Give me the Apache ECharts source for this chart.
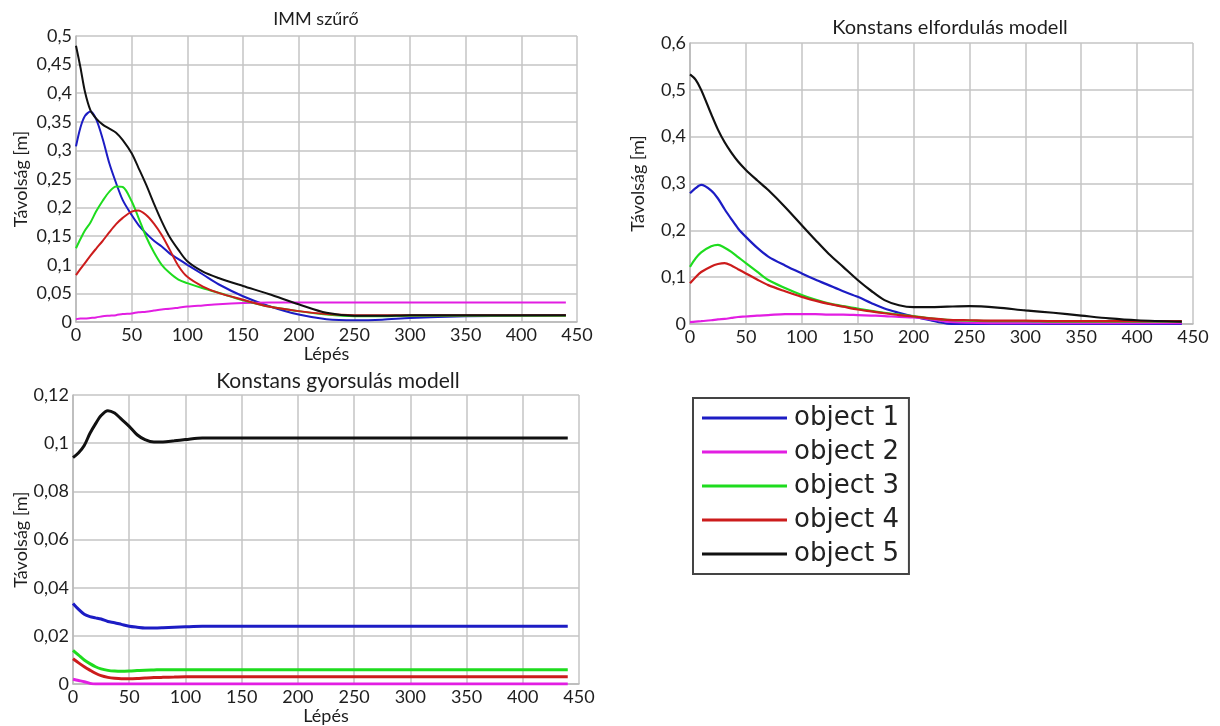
<!DOCTYPE html>
<html>
<head>
<meta charset="utf-8">
<script src="https://cdn.jsdelivr.net/npm/echarts@6/dist/echarts.min.js"></script>
<style>
html,body{margin:0;padding:0;background:#fff;}
#c{width:1220px;height:726px;}
</style>
</head>
<body>
<div id="c"></div>
<script>
// ---------- DATA ----------
const seriesNames = ['object 1', 'object 2', 'object 3', 'object 4', 'object 5'];
const chartTitles = ['IMM szűrő', 'Konstans elfordulás modell', 'Konstans gyorsulás modell'];
const xTicks = [0, 50, 100, 150, 200, 250, 300, 350, 400, 450];
const yTicksImm = [0, 0.05, 0.1, 0.15, 0.2, 0.25, 0.3, 0.35, 0.4, 0.45, 0.5];
const yTicksKe = [0, 0.1, 0.2, 0.3, 0.4, 0.5, 0.6];
const yTicksKg = [0, 0.02, 0.04, 0.06, 0.08, 0.1, 0.12];

// IMM szűrő
const immX  = [0, 4, 8, 13, 18, 24, 30, 36, 42, 50, 56, 63, 70, 77, 84, 92, 100, 114, 128, 150, 173, 200, 225, 250, 275, 300, 350, 400, 440];
const immO1 = [0.307, 0.34, 0.36, 0.368, 0.355, 0.32, 0.277, 0.243, 0.213, 0.187, 0.17, 0.155, 0.142, 0.132, 0.12, 0.11, 0.1, 0.083, 0.066, 0.045, 0.028, 0.013, 0.005, 0.003, 0.004, 0.007, 0.010, 0.011, 0.012];
const immO2 = [0.005, 0.006, 0.006, 0.007, 0.008, 0.01, 0.011, 0.012, 0.014, 0.015, 0.017, 0.018, 0.02, 0.022, 0.023, 0.025, 0.027, 0.029, 0.031, 0.033, 0.034, 0.034, 0.034, 0.034, 0.034, 0.034, 0.034, 0.034, 0.034];
const immO3 = [0.129, 0.145, 0.16, 0.174, 0.193, 0.212, 0.228, 0.237, 0.236, 0.211, 0.183, 0.149, 0.122, 0.1, 0.086, 0.074, 0.068, 0.059, 0.051, 0.038, 0.027, 0.019, 0.013, 0.010, 0.010, 0.011, 0.011, 0.011, 0.011];
const immO4 = [0.082, 0.093, 0.103, 0.116, 0.128, 0.142, 0.157, 0.171, 0.182, 0.193, 0.195, 0.187, 0.172, 0.152, 0.127, 0.098, 0.079, 0.062, 0.051, 0.039, 0.027, 0.019, 0.014, 0.012, 0.012, 0.012, 0.012, 0.012, 0.012];
const immO5 = [0.483, 0.445, 0.403, 0.37, 0.356, 0.345, 0.338, 0.331, 0.318, 0.295, 0.27, 0.24, 0.207, 0.176, 0.149, 0.126, 0.106, 0.088, 0.077, 0.063, 0.049, 0.031, 0.016, 0.011, 0.011, 0.012, 0.012, 0.012, 0.012];

// Konstans elfordulás modell
const keX  = [0, 5, 10, 19, 25, 31, 37, 43, 50, 60, 70, 85, 100, 112, 124, 137, 150, 162, 174, 187, 200, 215, 230, 250, 275, 300, 325, 350, 375, 400, 440];
const keO1 = [0.279, 0.29, 0.297, 0.285, 0.268, 0.245, 0.224, 0.204, 0.186, 0.163, 0.144, 0.125, 0.108, 0.095, 0.083, 0.07, 0.058, 0.045, 0.033, 0.024, 0.016, 0.008, 0.001, 0.0, 0.0, 0.0, 0.0, 0.0, 0.0, 0.0, 0.0];
const keO2 = [0.004, 0.005, 0.006, 0.008, 0.01, 0.011, 0.013, 0.015, 0.016, 0.018, 0.019, 0.021, 0.021, 0.021, 0.02, 0.02, 0.019, 0.018, 0.017, 0.015, 0.014, 0.01, 0.005, 0.003, 0.002, 0.002, 0.002, 0.002, 0.002, 0.002, 0.002];
const keO3 = [0.122, 0.14, 0.153, 0.166, 0.169, 0.163, 0.154, 0.143, 0.13, 0.112, 0.094, 0.077, 0.062, 0.052, 0.044, 0.038, 0.033, 0.028, 0.024, 0.02, 0.017, 0.012, 0.009, 0.007, 0.006, 0.006, 0.005, 0.005, 0.005, 0.005, 0.005];
const keO4 = [0.087, 0.1, 0.111, 0.123, 0.128, 0.13, 0.125, 0.117, 0.108, 0.095, 0.083, 0.07, 0.058, 0.05, 0.043, 0.037, 0.031, 0.027, 0.023, 0.019, 0.016, 0.012, 0.009, 0.008, 0.007, 0.007, 0.006, 0.006, 0.006, 0.006, 0.006];
const keO5 = [0.533, 0.522, 0.5, 0.448, 0.415, 0.388, 0.366, 0.347, 0.329, 0.307, 0.286, 0.25, 0.211, 0.18, 0.15, 0.122, 0.094, 0.071, 0.051, 0.04, 0.036, 0.036, 0.037, 0.038, 0.035, 0.029, 0.024, 0.018, 0.012, 0.008, 0.005];

// Konstans gyorsulás modell
const kgX  = [0, 5, 10, 15, 20, 25, 31, 37, 43, 50, 57, 64, 72, 80, 90, 100, 115, 130, 150, 200, 250, 300, 350, 400, 440];
const kgO1 = [0.0335, 0.031, 0.029, 0.028, 0.0275, 0.027, 0.026, 0.0255, 0.0248, 0.024, 0.0236, 0.0233, 0.0233, 0.0234, 0.0236, 0.0238, 0.024, 0.024, 0.024, 0.024, 0.024, 0.024, 0.024, 0.024, 0.024];
const kgO2 = [0.002, 0.0015, 0.001, 0.0003, 0.0, 0.0, 0.0, 0.0, 0.0, 0.0, 0.0, 0.0, 0.0, 0.0, 0.0, 0.0, 0.0, 0.0, 0.0, 0.0, 0.0, 0.0, 0.0, 0.0, 0.0];
const kgO3 = [0.014, 0.012, 0.01, 0.0085, 0.0072, 0.0063, 0.0057, 0.0054, 0.0053, 0.0054, 0.0056, 0.0058, 0.0059, 0.006, 0.006, 0.006, 0.006, 0.006, 0.006, 0.006, 0.006, 0.006, 0.006, 0.006, 0.006];
const kgO4 = [0.0105, 0.0088, 0.0072, 0.0058, 0.0045, 0.0035, 0.0028, 0.0024, 0.0022, 0.0022, 0.0023, 0.0025, 0.0027, 0.0028, 0.0029, 0.003, 0.003, 0.003, 0.003, 0.003, 0.003, 0.003, 0.003, 0.003, 0.003];
const kgO5 = [0.094, 0.096, 0.099, 0.104, 0.108, 0.1115, 0.1135, 0.1125, 0.110, 0.107, 0.1035, 0.1015, 0.1005, 0.1005, 0.101, 0.1015, 0.1022, 0.1022, 0.1022, 0.1022, 0.1022, 0.1022, 0.1022, 0.1022, 0.1022];

const colors = ['#1c1cc4', '#e21ee2', '#1edc1e', '#cc1c1c', '#111111'];

// ---------- BUILD ----------
const pair = (xs, ys) => xs.map((x, i) => [x, ys[i]]);
const fmt = v => String(+v.toFixed(3)).replace('.', ',');
const FONT = 'Lato';
const TXT = '#1e1e1e';
const GRIDC = '#c4c4c4';

const grids = [
  {left: 76, top: 36, width: 501, height: 286},
  {left: 690, top: 43, width: 503, height: 281},
  {left: 73, top: 395, width: 506, height: 291}
];

function xAxis(i, withName) {
  return {
    type: 'value', gridIndex: i,
    min: xTicks[0], max: xTicks[xTicks.length - 1], interval: xTicks[1] - xTicks[0],
    name: withName ? 'Lépés' : '', nameLocation: 'middle', nameGap: 21,
    nameTextStyle: {fontFamily: FONT, fontSize: 18, color: TXT},
    axisLine: {show: true, lineStyle: {color: '#b8b8b8', width: 1.5}},
    axisTick: {show: false},
    axisLabel: {fontFamily: FONT, fontSize: 18, color: TXT, margin: 4},
    splitLine: {show: true, lineStyle: {color: GRIDC, width: 1.5}}
  };
}
function yAxis(i, ticks, gap) {
  return {
    type: 'value', gridIndex: i,
    min: ticks[0], max: ticks[ticks.length - 1], interval: ticks[1] - ticks[0],
    name: 'Távolság [m]', nameLocation: 'middle', nameGap: gap,
    nameTextStyle: {fontFamily: FONT, fontSize: 18, color: TXT},
    axisLine: {show: true, lineStyle: {color: '#b8b8b8', width: 1.5}},
    axisTick: {show: false},
    axisLabel: {fontFamily: FONT, fontSize: 18, color: TXT, margin: 4, formatter: fmt},
    splitLine: {show: true, lineStyle: {color: GRIDC, width: 1.5}}
  };
}

const datasets = [
  [immX, [immO1, immO2, immO3, immO4, immO5], 2],
  [keX,  [keO1, keO2, keO3, keO4, keO5], 2.2],
  [kgX,  [kgO1, kgO2, kgO3, kgO4, kgO5], 3]
];
const series = [];
datasets.forEach(([xs, ys, w], gi) => {
  ys.forEach((y, si) => {
    series.push({
      type: 'line', name: seriesNames[si],
      xAxisIndex: gi, yAxisIndex: gi,
      data: pair(xs, y), smooth: 0.3, showSymbol: false, symbol: 'none',
      lineStyle: {color: colors[si], width: w},
      itemStyle: {color: colors[si]},
      emphasis: {disabled: true}
    });
  });
});

const titlePos = [[316, 19], [950, 28], [338, 381]];
const titleSize = [18, 20, 21];
const graphic = chartTitles.map((t, i) => ({
  type: 'text', x: titlePos[i][0], y: titlePos[i][1],
  style: {text: t, font: titleSize[i] + 'px ' + FONT, fill: TXT,
          align: 'center', verticalAlign: 'middle', textAlign: 'center', textVerticalAlign: 'middle'}
}));

const chart = echarts.init(document.getElementById('c'), null, {renderer: 'canvas'});
chart.setOption({
  animation: false,
  backgroundColor: '#fff',
  grid: grids,
  xAxis: [xAxis(0, true), xAxis(1, false), xAxis(2, true)],
  yAxis: [yAxis(0, yTicksImm, 46), yAxis(1, yTicksKe, 43), yAxis(2, yTicksKg, 43)],
  legend: {
    data: seriesNames, orient: 'vertical', left: 693, top: 398,
    icon: 'rect', itemWidth: 85, itemHeight: 3, itemGap: 4,
    padding: [5, 10, 5, 9], borderColor: '#444', borderWidth: 2,
    selectedMode: false,
    textStyle: {fontFamily: 'DejaVu Sans', fontSize: 26, color: '#222', lineHeight: 30, padding: [0, 0, 0, 2]}
  },
  graphic: graphic,
  series: series
});
</script>
</body>
</html>
